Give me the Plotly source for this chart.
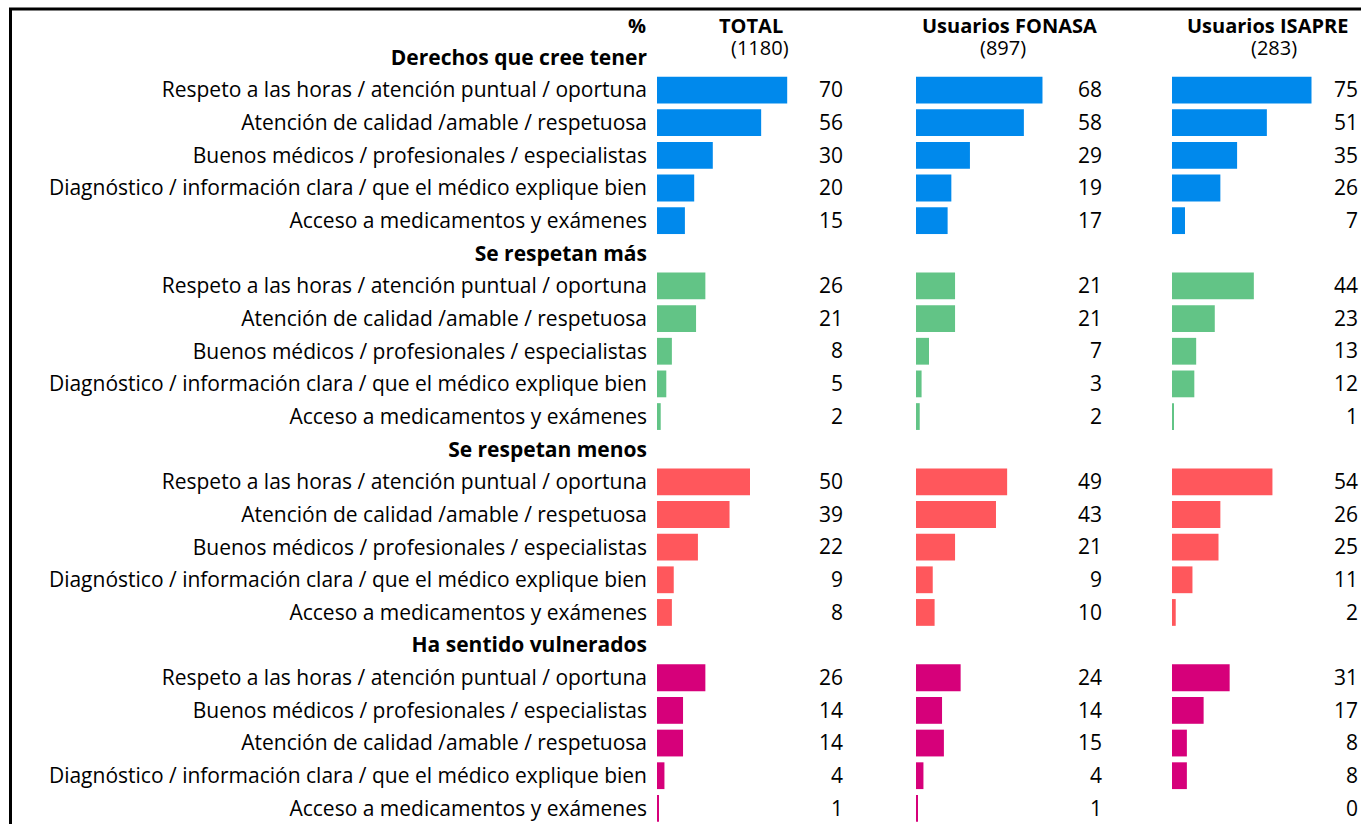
import plotly.graph_objects as go
from plotly.subplots import make_subplots

W, H = 1361, 824

sections = ["Derechos que cree tener", "Se respetan más", "Se respetan menos", "Ha sentido vulnerados"]
items_std = [
    "Respeto a las horas / atención puntual / oportuna",
    "Atención de calidad /amable / respetuosa",
    "Buenos médicos / profesionales / especialistas",
    "Diagnóstico / información clara / que el médico explique bien",
    "Acceso a medicamentos y exámenes",
]
items_last = [
    "Respeto a las horas / atención puntual / oportuna",
    "Buenos médicos / profesionales / especialistas",
    "Atención de calidad /amable / respetuosa",
    "Diagnóstico / información clara / que el médico explique bien",
    "Acceso a medicamentos y exámenes",
]
section_items = [items_std, items_std, items_std, items_last]

groups = ["TOTAL", "Usuarios FONASA", "Usuarios ISAPRE"]
bases = ["(1180)", "(897)", "(283)"]

total = [[70, 56, 30, 20, 15], [26, 21, 8, 5, 2], [50, 39, 22, 9, 8], [26, 14, 14, 4, 1]]
fonasa = [[68, 58, 29, 19, 17], [21, 21, 7, 3, 2], [49, 43, 21, 9, 10], [24, 14, 15, 4, 1]]
isapre = [[75, 51, 35, 26, 7], [44, 23, 13, 12, 1], [54, 26, 25, 11, 2], [31, 17, 8, 8, 0]]
colors = ["#0089EC", "#62C486", "#FF575C", "#D6007A"]

FONT = "Open Sans"
FS = 21


def px_x(x):
    return x / W


def px_y(y):
    return 1 - y / H


# row layout
rows_y, rows_lbl = [], []
bar_y, bar_c, idx = [], [], 0
for s, sec in enumerate(sections):
    rows_y.append(idx)
    rows_lbl.append("<b>" + sec + "</b>")
    idx += 1
    for it in section_items[s]:
        rows_y.append(idx)
        rows_lbl.append(it)
        bar_y.append(idx)
        bar_c.append(colors[s])
        idx += 1

fig = make_subplots(rows=1, cols=3, shared_yaxes=True, horizontal_spacing=0.02)

for c, data in enumerate([total, fonasa, isapre]):
    vals = [v for sec in data for v in sec]
    fig.add_trace(go.Bar(x=vals, y=bar_y, orientation="h", marker=dict(color=bar_c, line_width=0),
                         width=0.82, showlegend=False, hoverinfo="skip"), row=1, col=c + 1)
    fig.add_trace(go.Scatter(x=[100] * len(vals), y=[v + 0.06 for v in bar_y], mode="text",
                             text=[str(v) for v in vals], textposition="middle left",
                             textfont=dict(family=FONT, size=FS, color="black"),
                             showlegend=False, hoverinfo="skip", cliponaxis=False), row=1, col=c + 1)

px_dom = [(657, 843), (916, 1102), (1172, 1358)]
row_h = 32.65
y0_px = 57.4
yr = [23 + (H - (y0_px + 23 * row_h)) / row_h, -y0_px / row_h]

for c, (a, b) in enumerate(px_dom):
    key = "xaxis" if c == 0 else "xaxis%d" % (c + 1)
    fig.layout[key].update(domain=[px_x(a), px_x(b)], range=[0, 100], visible=False, fixedrange=True)

fig.update_yaxes(range=yr, showgrid=False, zeroline=False, showline=False, ticks="", fixedrange=True)
fig.update_yaxes(tickvals=rows_y, ticktext=rows_lbl, tickfont=dict(family=FONT, size=FS, color="black"),
                 ticklabelstandoff=9, row=1, col=1)

ann = [dict(text="<b>%</b>", x=px_x(648), y=px_y(26), xref="paper", yref="paper",
            xanchor="right", yanchor="middle", showarrow=False, font=dict(size=20))]
head_c = [751, 1009, 1267]
base_c = [760, 1003, 1274]
for g, b, hc, bc in zip(groups, bases, head_c, base_c):
    ann.append(dict(text="<b>" + g + "</b>", x=px_x(hc), y=px_y(25), xref="paper", yref="paper",
                    xanchor="center", yanchor="middle", showarrow=False, font=dict(size=20)))
    ann.append(dict(text=b, x=px_x(bc), y=px_y(47), xref="paper", yref="paper",
                    xanchor="center", yanchor="middle", showarrow=False, font=dict(size=20)))

# frame lines (top and left)
shapes = [
    dict(type="line", xref="paper", yref="paper", x0=px_x(10.5), x1=px_x(10.5), y0=-0.05, y1=px_y(9),
         line=dict(color="black", width=3)),
    dict(type="line", xref="paper", yref="paper", x0=px_x(9), x1=1.05, y0=px_y(9), y1=px_y(9),
         line=dict(color="black", width=3)),
]

fig.update_layout(
    width=W, height=H,
    margin=dict(l=0, r=0, t=0, b=0),
    paper_bgcolor="white", plot_bgcolor="white",
    font=dict(family=FONT, size=FS, color="black"),
    annotations=ann, shapes=shapes,
    bargap=0.18,
)

# drop the default page margin so the figure fills the window exactly
fig.write_html("out.html", config={"displayModeBar": False},
               post_script="document.body.style.margin='0';document.body.style.overflow='hidden';")
